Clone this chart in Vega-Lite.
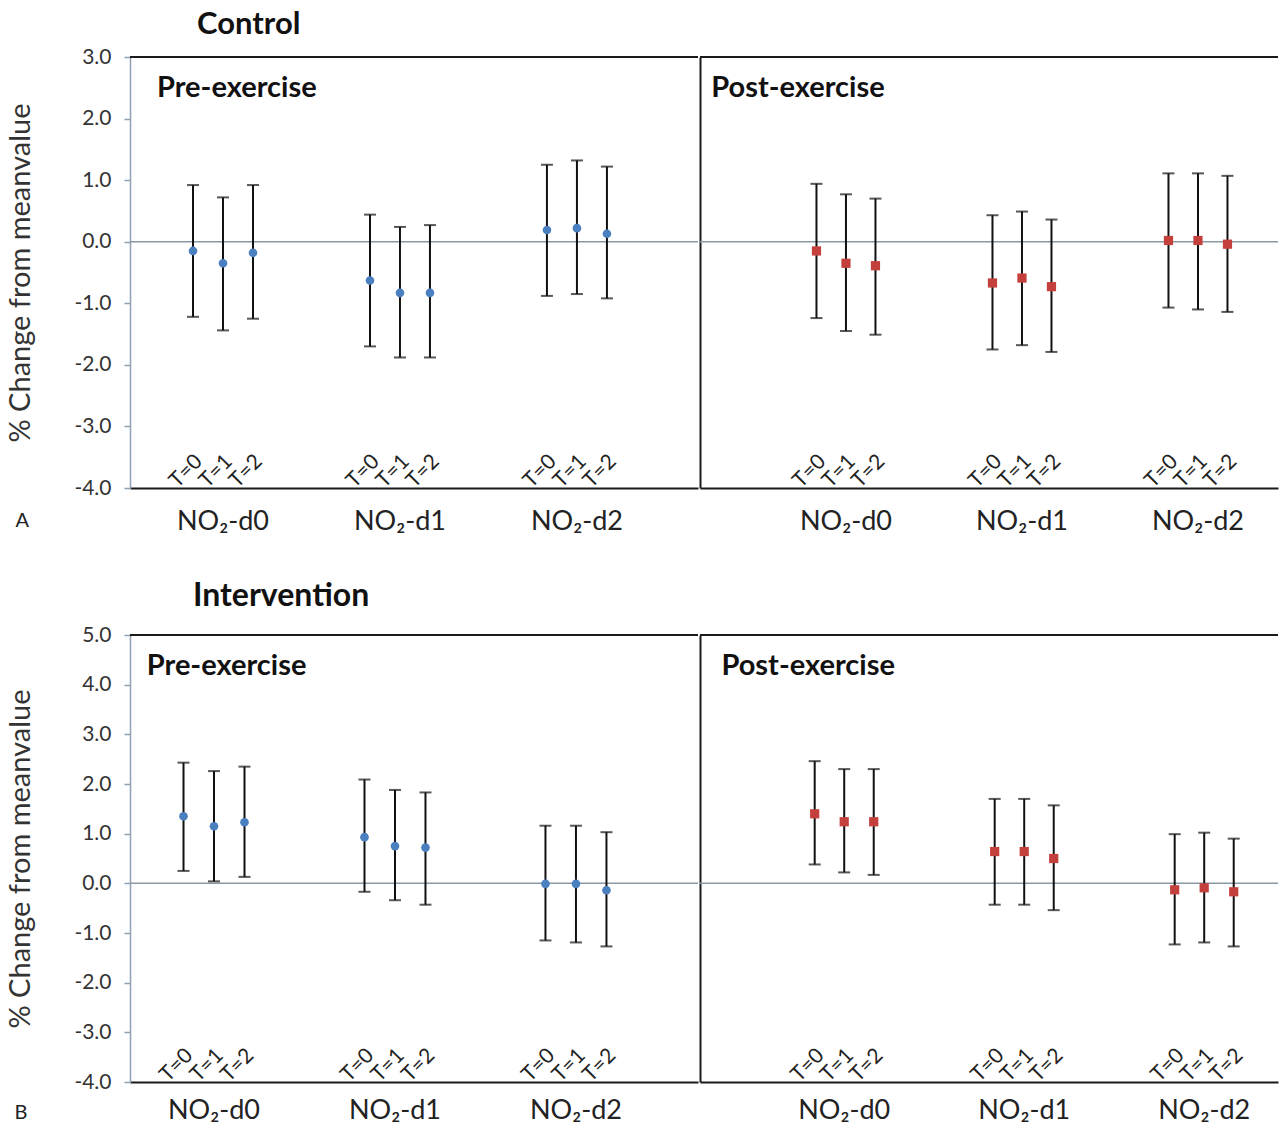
{
  "$schema": "https://vega.github.io/schema/vega-lite/v6.json",
  "background": "white",
  "padding": {"left": 6, "top": 9, "right": 0, "bottom": 0},
  "datasets": {
    "d": [
      {"cond": "Control", "phase": "Pre", "grp": "NO₂-d0", "t": "T=0", "mean": -0.15, "lo": -1.22, "hi": 0.92},
      {"cond": "Control", "phase": "Pre", "grp": "NO₂-d0", "t": "T=1", "mean": -0.35, "lo": -1.44, "hi": 0.72},
      {"cond": "Control", "phase": "Pre", "grp": "NO₂-d0", "t": "T=2", "mean": -0.18, "lo": -1.25, "hi": 0.92},
      {"cond": "Control", "phase": "Pre", "grp": "NO₂-d1", "t": "T=0", "mean": -0.63, "lo": -1.70, "hi": 0.44},
      {"cond": "Control", "phase": "Pre", "grp": "NO₂-d1", "t": "T=1", "mean": -0.83, "lo": -1.88, "hi": 0.24},
      {"cond": "Control", "phase": "Pre", "grp": "NO₂-d1", "t": "T=2", "mean": -0.83, "lo": -1.88, "hi": 0.27},
      {"cond": "Control", "phase": "Pre", "grp": "NO₂-d2", "t": "T=0", "mean": 0.19, "lo": -0.88, "hi": 1.25},
      {"cond": "Control", "phase": "Pre", "grp": "NO₂-d2", "t": "T=1", "mean": 0.22, "lo": -0.85, "hi": 1.32},
      {"cond": "Control", "phase": "Pre", "grp": "NO₂-d2", "t": "T=2", "mean": 0.13, "lo": -0.92, "hi": 1.22},
      {"cond": "Control", "phase": "Post", "grp": "NO₂-d0", "t": "T=0", "mean": -0.15, "lo": -1.24, "hi": 0.94},
      {"cond": "Control", "phase": "Post", "grp": "NO₂-d0", "t": "T=1", "mean": -0.35, "lo": -1.45, "hi": 0.77},
      {"cond": "Control", "phase": "Post", "grp": "NO₂-d0", "t": "T=2", "mean": -0.39, "lo": -1.51, "hi": 0.70},
      {"cond": "Control", "phase": "Post", "grp": "NO₂-d1", "t": "T=0", "mean": -0.67, "lo": -1.75, "hi": 0.43},
      {"cond": "Control", "phase": "Post", "grp": "NO₂-d1", "t": "T=1", "mean": -0.59, "lo": -1.68, "hi": 0.49},
      {"cond": "Control", "phase": "Post", "grp": "NO₂-d1", "t": "T=2", "mean": -0.73, "lo": -1.79, "hi": 0.36},
      {"cond": "Control", "phase": "Post", "grp": "NO₂-d2", "t": "T=0", "mean": 0.02, "lo": -1.07, "hi": 1.11},
      {"cond": "Control", "phase": "Post", "grp": "NO₂-d2", "t": "T=1", "mean": 0.02, "lo": -1.10, "hi": 1.11},
      {"cond": "Control", "phase": "Post", "grp": "NO₂-d2", "t": "T=2", "mean": -0.04, "lo": -1.14, "hi": 1.07},
      {"cond": "Intervention", "phase": "Pre", "grp": "NO₂-d0", "t": "T=0", "mean": 1.35, "lo": 0.25, "hi": 2.43},
      {"cond": "Intervention", "phase": "Pre", "grp": "NO₂-d0", "t": "T=1", "mean": 1.15, "lo": 0.04, "hi": 2.26},
      {"cond": "Intervention", "phase": "Pre", "grp": "NO₂-d0", "t": "T=2", "mean": 1.23, "lo": 0.13, "hi": 2.35},
      {"cond": "Intervention", "phase": "Pre", "grp": "NO₂-d1", "t": "T=0", "mean": 0.93, "lo": -0.17, "hi": 2.09},
      {"cond": "Intervention", "phase": "Pre", "grp": "NO₂-d1", "t": "T=1", "mean": 0.75, "lo": -0.34, "hi": 1.88},
      {"cond": "Intervention", "phase": "Pre", "grp": "NO₂-d1", "t": "T=2", "mean": 0.72, "lo": -0.43, "hi": 1.83},
      {"cond": "Intervention", "phase": "Pre", "grp": "NO₂-d2", "t": "T=0", "mean": -0.01, "lo": -1.15, "hi": 1.16},
      {"cond": "Intervention", "phase": "Pre", "grp": "NO₂-d2", "t": "T=1", "mean": -0.01, "lo": -1.19, "hi": 1.16},
      {"cond": "Intervention", "phase": "Pre", "grp": "NO₂-d2", "t": "T=2", "mean": -0.14, "lo": -1.27, "hi": 1.03},
      {"cond": "Intervention", "phase": "Post", "grp": "NO₂-d0", "t": "T=0", "mean": 1.40, "lo": 0.38, "hi": 2.46},
      {"cond": "Intervention", "phase": "Post", "grp": "NO₂-d0", "t": "T=1", "mean": 1.24, "lo": 0.22, "hi": 2.30},
      {"cond": "Intervention", "phase": "Post", "grp": "NO₂-d0", "t": "T=2", "mean": 1.24, "lo": 0.17, "hi": 2.30},
      {"cond": "Intervention", "phase": "Post", "grp": "NO₂-d1", "t": "T=0", "mean": 0.64, "lo": -0.43, "hi": 1.70},
      {"cond": "Intervention", "phase": "Post", "grp": "NO₂-d1", "t": "T=1", "mean": 0.64, "lo": -0.43, "hi": 1.70},
      {"cond": "Intervention", "phase": "Post", "grp": "NO₂-d1", "t": "T=2", "mean": 0.50, "lo": -0.54, "hi": 1.57},
      {"cond": "Intervention", "phase": "Post", "grp": "NO₂-d2", "t": "T=0", "mean": -0.13, "lo": -1.23, "hi": 0.99},
      {"cond": "Intervention", "phase": "Post", "grp": "NO₂-d2", "t": "T=1", "mean": -0.09, "lo": -1.19, "hi": 1.02},
      {"cond": "Intervention", "phase": "Post", "grp": "NO₂-d2", "t": "T=2", "mean": -0.17, "lo": -1.27, "hi": 0.90}
    ]
  },
  "spacing": 46,
  "resolve": {"scale": {"xOffset": "independent"}},
  "vconcat": [
    {
      "spacing": 0,
      "resolve": {"scale": {"xOffset": "independent"}},
      "hconcat": [
        {
          "width": 568, "height": 431,
          "title": {"text": "Control", "anchor": "start", "frame": "group", "dx": 67, "offset": 5, "fontSize": 31, "fontWeight": "bold", "color": "#111"},
          "layer": [
            {"data": {"values": [{}]}, "mark": {"type": "rule", "color": "#8a99a6", "strokeWidth": 1.5}, "encoding": {"y": {"datum": 0}}},
            {"data": {"values": [{}]}, "mark": {"type": "rule", "color": "#1a1a1a", "strokeWidth": 2}, "encoding": {"y": {"datum": 3}}},
            {"data": {"values": [{}]}, "mark": {"type": "text", "align": "left", "baseline": "middle", "fontSize": 29, "fontWeight": "bold", "dx": 9, "color": "#111"},
             "encoding": {"x": {"datum": "NO₂-d0", "type": "nominal", "bandPosition": 0}, "y": {"datum": 2.49}, "text": {"value": "Pre-exercise"}}},
            {
              "data": {"name": "d"},
              "transform": [{"filter": "datum.cond === 'Control' && datum.phase === 'Pre'"}],
              "encoding": {
                "x": {"field": "grp", "type": "nominal", "scale": {"domain": ["NO₂-d0", "NO₂-d1", "NO₂-d2"], "paddingInner": 0.1525, "paddingOuter": 0.181, "align": 0.281},
                      "axis": {"title": "A", "titleX": -115, "titleY": 32, "titleAlign": "left", "titleBaseline": "middle", "titleFontSize": 20, "titleFontWeight": "normal", "titleColor": "#222",
                               "bandPosition": 0.5, "labelAlign": "center", "labelAngle": 0, "labelFontSize": 27, "labelPadding": 33, "labelBaseline": "middle", "labelColor": "#222", "ticks": false, "domainColor": "#1a1a1a", "domainWidth": 2}},
                "xOffset": {"field": "t", "type": "nominal", "scale": {"domain": ["T=0", "T=1", "T=2"], "paddingInner": 0, "paddingOuter": 1}}
              },
              "layer": [
                {"mark": {"type": "rule", "color": "#111", "strokeWidth": 2},
                 "encoding": {"y": {"field": "lo", "type": "quantitative", "scale": {"domain": [-4, 3], "nice": false, "zero": false},
                   "axis": {"title": "% Change from meanvalue", "values": [-4, -3, -2, -1, 0, 1, 2, 3], "format": ".1f", "labelExpr": "replace(datum.label, '−', '-')", "grid": false,
                            "domainColor": "#8fa0b0", "domainWidth": 1.5, "tickColor": "#8fa0b0", "tickSize": 6, "tickWidth": 1.5,
                            "labelPadding": 13, "labelFontSize": 21, "labelColor": "#333", "titleFontSize": 29, "titleFontWeight": "normal", "titleColor": "#333", "titlePadding": 38}},
                   "y2": {"field": "hi"}}},
                {"mark": {"type": "tick", "color": "#111", "thickness": 2, "size": 12}, "encoding": {"y": {"field": "lo", "type": "quantitative"}}},
                {"mark": {"type": "tick", "color": "#111", "thickness": 2, "size": 12}, "encoding": {"y": {"field": "hi", "type": "quantitative"}}},
                {"mark": {"type": "point", "shape": "circle", "filled": true, "opacity": 1, "size": 75, "color": "#4a7fc0"}, "encoding": {"y": {"field": "mean", "type": "quantitative"}}},
                {"mark": {"type": "text", "angle": 315, "align": "left", "baseline": "alphabetic", "fontSize": 21, "dx": -11.5, "dy": -10.5, "color": "#222"},
                 "encoding": {"y": {"datum": -4}, "text": {"field": "t"}}}
              ]
            }
          ]
        },
        {
          "width": 578, "height": 431,
          "layer": [
            {"data": {"values": [{}]}, "mark": {"type": "rule", "color": "#8a99a6", "strokeWidth": 1.5}, "encoding": {"y": {"datum": 0}}},
            {"data": {"values": [{}]}, "mark": {"type": "rule", "color": "#1a1a1a", "strokeWidth": 2}, "encoding": {"y": {"datum": 3}}},
            {"data": {"values": [{}]}, "mark": {"type": "text", "align": "left", "baseline": "middle", "fontSize": 29, "fontWeight": "bold", "dx": -61, "color": "#111"},
             "encoding": {"x": {"datum": "NO₂-d0", "type": "nominal", "bandPosition": 0}, "y": {"datum": 2.49}, "text": {"value": "Post-exercise"}}},
            {
              "data": {"name": "d"},
              "transform": [{"filter": "datum.cond === 'Control' && datum.phase === 'Post'"}],
              "encoding": {
                "x": {"field": "grp", "type": "nominal", "scale": {"domain": ["NO₂-d0", "NO₂-d1", "NO₂-d2"], "paddingInner": 0.162, "paddingOuter": 0.223, "align": 0.92},
                      "axis": {"title": null, "bandPosition": 0.5, "labelAlign": "center", "labelAngle": 0, "labelFontSize": 27, "labelPadding": 33, "labelBaseline": "middle", "labelColor": "#222", "ticks": false, "domainColor": "#1a1a1a", "domainWidth": 2}},
                "xOffset": {"field": "t", "type": "nominal", "scale": {"domain": ["T=0", "T=1", "T=2"], "paddingInner": 0, "paddingOuter": 1}}
              },
              "layer": [
                {"mark": {"type": "rule", "color": "#111", "strokeWidth": 2},
                 "encoding": {"y": {"field": "lo", "type": "quantitative", "scale": {"domain": [-4, 3], "nice": false, "zero": false},
                   "axis": {"title": null, "labels": false, "ticks": false, "grid": false, "domainColor": "#1a1a1a", "domainWidth": 2}},
                   "y2": {"field": "hi"}}},
                {"mark": {"type": "tick", "color": "#111", "thickness": 2, "size": 12}, "encoding": {"y": {"field": "lo", "type": "quantitative"}}},
                {"mark": {"type": "tick", "color": "#111", "thickness": 2, "size": 12}, "encoding": {"y": {"field": "hi", "type": "quantitative"}}},
                {"mark": {"type": "point", "shape": "square", "filled": true, "opacity": 1, "size": 85, "color": "#c4403d"}, "encoding": {"y": {"field": "mean", "type": "quantitative"}}},
                {"mark": {"type": "text", "angle": 315, "align": "left", "baseline": "alphabetic", "fontSize": 21, "dx": -11.5, "dy": -10.5, "color": "#222"},
                 "encoding": {"y": {"datum": -4}, "text": {"field": "t"}}}
              ]
            }
          ]
        }
      ]
    },
    {
      "spacing": 0,
      "resolve": {"scale": {"xOffset": "independent"}},
      "hconcat": [
        {
          "width": 568, "height": 447,
          "title": {"text": "Intervention", "anchor": "start", "frame": "group", "dx": 63, "offset": 11, "fontSize": 32, "fontWeight": "bold", "color": "#111"},
          "layer": [
            {"data": {"values": [{}]}, "mark": {"type": "rule", "color": "#8a99a6", "strokeWidth": 1.5}, "encoding": {"y": {"datum": 0}}},
            {"data": {"values": [{}]}, "mark": {"type": "rule", "color": "#1a1a1a", "strokeWidth": 2}, "encoding": {"y": {"datum": 5}}},
            {"data": {"values": [{}]}, "mark": {"type": "text", "align": "left", "baseline": "middle", "fontSize": 29, "fontWeight": "bold", "dx": 9, "color": "#111"},
             "encoding": {"x": {"datum": "NO₂-d0", "type": "nominal", "bandPosition": 0}, "y": {"datum": 4.38}, "text": {"value": "Pre-exercise"}}},
            {
              "data": {"name": "d"},
              "transform": [{"filter": "datum.cond === 'Intervention' && datum.phase === 'Pre'"}],
              "encoding": {
                "x": {"field": "grp", "type": "nominal", "scale": {"domain": ["NO₂-d0", "NO₂-d1", "NO₂-d2"], "paddingInner": 0.1575, "paddingOuter": 0.148, "align": 0.145},
                      "axis": {"title": "B", "titleX": -116, "titleY": 30, "titleAlign": "left", "titleBaseline": "middle", "titleFontSize": 20, "titleFontWeight": "normal", "titleColor": "#222",
                               "bandPosition": 0.5, "labelAlign": "center", "labelAngle": 0, "labelFontSize": 27, "labelPadding": 28, "labelBaseline": "middle", "labelColor": "#222", "ticks": false, "domainColor": "#1a1a1a", "domainWidth": 2}},
                "xOffset": {"field": "t", "type": "nominal", "scale": {"domain": ["T=0", "T=1", "T=2"], "paddingInner": 0, "paddingOuter": 1}}
              },
              "layer": [
                {"mark": {"type": "rule", "color": "#111", "strokeWidth": 2},
                 "encoding": {"y": {"field": "lo", "type": "quantitative", "scale": {"domain": [-4, 5], "nice": false, "zero": false},
                   "axis": {"title": "% Change from meanvalue", "values": [-4, -3, -2, -1, 0, 1, 2, 3, 4, 5], "format": ".1f", "labelExpr": "replace(datum.label, '−', '-')", "grid": false,
                            "domainColor": "#8fa0b0", "domainWidth": 1.5, "tickColor": "#8fa0b0", "tickSize": 6, "tickWidth": 1.5,
                            "labelPadding": 13, "labelFontSize": 21, "labelColor": "#333", "titleFontSize": 29, "titleFontWeight": "normal", "titleColor": "#333", "titlePadding": 38}},
                   "y2": {"field": "hi"}}},
                {"mark": {"type": "tick", "color": "#111", "thickness": 2, "size": 12}, "encoding": {"y": {"field": "lo", "type": "quantitative"}}},
                {"mark": {"type": "tick", "color": "#111", "thickness": 2, "size": 12}, "encoding": {"y": {"field": "hi", "type": "quantitative"}}},
                {"mark": {"type": "point", "shape": "circle", "filled": true, "opacity": 1, "size": 75, "color": "#4a7fc0"}, "encoding": {"y": {"field": "mean", "type": "quantitative"}}},
                {"mark": {"type": "text", "angle": 315, "align": "left", "baseline": "alphabetic", "fontSize": 21, "dx": -11.5, "dy": -10.5, "color": "#222"},
                 "encoding": {"y": {"datum": -4}, "text": {"field": "t"}}}
              ]
            }
          ]
        },
        {
          "width": 578, "height": 447,
          "layer": [
            {"data": {"values": [{}]}, "mark": {"type": "rule", "color": "#8a99a6", "strokeWidth": 1.5}, "encoding": {"y": {"datum": 0}}},
            {"data": {"values": [{}]}, "mark": {"type": "rule", "color": "#1a1a1a", "strokeWidth": 2}, "encoding": {"y": {"datum": 5}}},
            {"data": {"values": [{}]}, "mark": {"type": "text", "align": "left", "baseline": "middle", "fontSize": 29, "fontWeight": "bold", "dx": -49, "color": "#111"},
             "encoding": {"x": {"datum": "NO₂-d0", "type": "nominal", "bandPosition": 0}, "y": {"datum": 4.38}, "text": {"value": "Post-exercise"}}},
            {
              "data": {"name": "d"},
              "transform": [{"filter": "datum.cond === 'Intervention' && datum.phase === 'Post'"}],
              "encoding": {
                "x": {"field": "grp", "type": "nominal", "scale": {"domain": ["NO₂-d0", "NO₂-d1", "NO₂-d2"], "paddingInner": 0.18, "paddingOuter": 0.1956, "align": 1},
                      "axis": {"title": null, "bandPosition": 0.5, "labelAlign": "center", "labelAngle": 0, "labelFontSize": 27, "labelPadding": 28, "labelBaseline": "middle", "labelColor": "#222", "ticks": false, "domainColor": "#1a1a1a", "domainWidth": 2}},
                "xOffset": {"field": "t", "type": "nominal", "scale": {"domain": ["T=0", "T=1", "T=2"], "paddingInner": 0, "paddingOuter": 1}}
              },
              "layer": [
                {"mark": {"type": "rule", "color": "#111", "strokeWidth": 2},
                 "encoding": {"y": {"field": "lo", "type": "quantitative", "scale": {"domain": [-4, 5], "nice": false, "zero": false},
                   "axis": {"title": null, "labels": false, "ticks": false, "grid": false, "domainColor": "#1a1a1a", "domainWidth": 2}},
                   "y2": {"field": "hi"}}},
                {"mark": {"type": "tick", "color": "#111", "thickness": 2, "size": 12}, "encoding": {"y": {"field": "lo", "type": "quantitative"}}},
                {"mark": {"type": "tick", "color": "#111", "thickness": 2, "size": 12}, "encoding": {"y": {"field": "hi", "type": "quantitative"}}},
                {"mark": {"type": "point", "shape": "square", "filled": true, "opacity": 1, "size": 85, "color": "#c4403d"}, "encoding": {"y": {"field": "mean", "type": "quantitative"}}},
                {"mark": {"type": "text", "angle": 315, "align": "left", "baseline": "alphabetic", "fontSize": 21, "dx": -11.5, "dy": -10.5, "color": "#222"},
                 "encoding": {"y": {"datum": -4}, "text": {"field": "t"}}}
              ]
            }
          ]
        }
      ]
    }
  ],
  "config": {
    "font": "Lato",
    "view": {"stroke": null},
    "axis": {"labelFont": "Lato", "titleFont": "Lato"},
    "title": {"font": "Lato"}
  }
}
